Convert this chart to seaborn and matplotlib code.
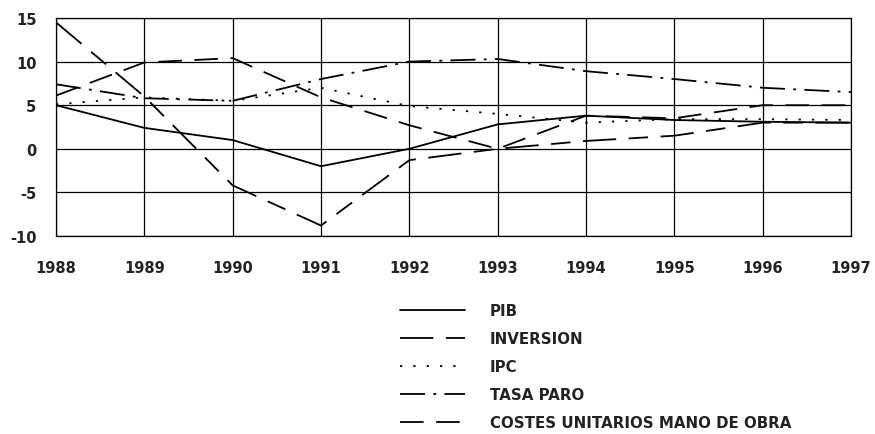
import matplotlib
matplotlib.use("Agg")
import matplotlib.pyplot as plt
import seaborn as sns
import pandas as pd

years = [1988, 1989, 1990, 1991, 1992, 1993, 1994, 1995, 1996, 1997]
pib = [5.0, 2.4, 1.0, -2.0, 0.0, 2.8, 3.8, 3.3, 3.1, 3.0]
inversion = [14.5, 6.0, -4.2, -8.8, -1.3, 0.0, 0.9, 1.5, 3.0, 3.0]
ipc = [5.1, 5.9, 5.5, 7.0, 4.9, 4.0, 3.0, 3.4, 3.4, 3.3]
tasa_paro = [7.4, 5.8, 5.5, 8.0, 10.0, 10.3, 8.9, 8.0, 7.0, 6.5]
costes = [6.1, 9.9, 10.4, 5.9, 2.7, 0.0, 3.8, 3.5, 5.0, 5.0]
series_names = ["PIB", "INVERSION", "IPC", "TASA PARO", "COSTES UNITARIOS MANO DE OBRA"]
y_ticks = [-10, -5, 0, 5, 10, 15]

sns.set_theme(style="white")
plt.rcParams["font.family"] = ["DejaVu Sans"]
plt.rcParams["lines.scale_dashes"] = False

df = pd.DataFrame({
    "year": years * 5,
    "value": pib + inversion + ipc + tasa_paro + costes,
    "series": sum([[n] * len(years) for n in series_names], []),
})

dash_styles = {
    "PIB": "",
    "INVERSION": (24, 9, 14, 9),
    "IPC": (1.6, 8),
    "TASA PARO": (18, 6, 2, 6),
    "COSTES UNITARIOS MANO DE OBRA": (17, 9),
}

fig = plt.figure(figsize=(8.75, 4.35), dpi=100)
ax = fig.add_axes([0.064, 0.4552, 0.9086, 0.5011])

sns.lineplot(data=df, x="year", y="value", style="series", style_order=series_names,
             dashes=dash_styles, color="black", linewidth=1.3, legend=False, ax=ax,
             zorder=3)

ax.set_xlim(1988, 1997)
ax.set_ylim(-10, 15)
ax.set_xticks(years)
ax.set_xticklabels([str(y) for y in years])
ax.set_yticks(y_ticks)
ax.set_yticklabels([str(v) for v in y_ticks])
ax.set_xlabel("")
ax.set_ylabel("")
ax.grid(True, color="black", linewidth=0.9)
for s in ax.spines.values():
    s.set_color("black")
    s.set_linewidth(0.9)
ax.tick_params(axis="both", which="major", direction="out", length=8, width=0.9,
               color="black", labelsize=10.5, labelcolor="#222222")
ax.tick_params(axis="x", pad=9)
ax.tick_params(axis="y", pad=6)
for lab in ax.get_xticklabels() + ax.get_yticklabels():
    lab.set_fontweight("bold")

handles = ax.get_lines()[:5]
leg = ax.legend(handles, series_names, loc="upper left",
                bbox_to_anchor=(400 / 875, 1 - 304 / 435), bbox_transform=fig.transFigure,
                frameon=False, handlelength=4.33, handletextpad=1.67, labelspacing=0.87,
                borderaxespad=0, borderpad=0,
                prop={"weight": "bold", "size": 10.8})
for t in leg.get_texts():
    t.set_color("#222222")

fig.savefig("out.png", dpi=100)
